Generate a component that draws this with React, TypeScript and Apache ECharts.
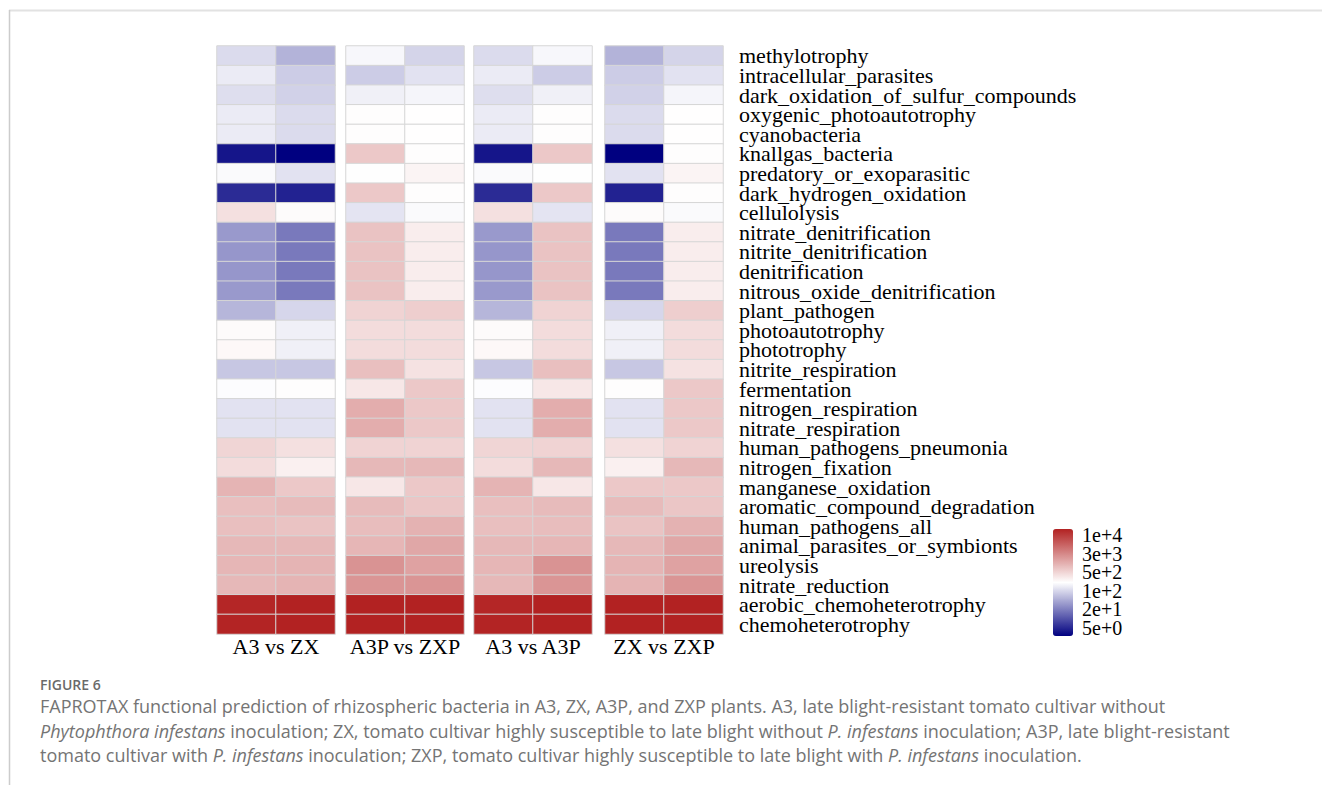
import React, { useEffect, useRef } from "react";
import * as echarts from "echarts";

const functions = [
  "methylotrophy",
  "intracellular_parasites",
  "dark_oxidation_of_sulfur_compounds",
  "oxygenic_photoautotrophy",
  "cyanobacteria",
  "knallgas_bacteria",
  "predatory_or_exoparasitic",
  "dark_hydrogen_oxidation",
  "cellulolysis",
  "nitrate_denitrification",
  "nitrite_denitrification",
  "denitrification",
  "nitrous_oxide_denitrification",
  "plant_pathogen",
  "photoautotrophy",
  "phototrophy",
  "nitrite_respiration",
  "fermentation",
  "nitrogen_respiration",
  "nitrate_respiration",
  "human_pathogens_pneumonia",
  "nitrogen_fixation",
  "manganese_oxidation",
  "aromatic_compound_degradation",
  "human_pathogens_all",
  "animal_parasites_or_symbionts",
  "ureolysis",
  "nitrate_reduction",
  "aerobic_chemoheterotrophy",
  "chemoheterotrophy",
];

// estimated abundances per sample (same order as functions)
const A3 = [127, 166, 133, 166, 166, 4.3, 215, 6.3, 431, 41, 39, 39, 41, 67, 256, 267, 90, 224, 143, 143, 536, 470, 1030, 828, 828, 944, 986, 944, 16672, 17400];
const ZX = [64, 98, 107, 127, 127, 3.0, 143, 5.4, 256, 24, 24, 24, 24, 117, 181, 181, 90, 245, 143, 143, 431, 318, 696, 903, 759, 944, 1030, 1030, 18197, 18197];
const A3P = [206, 98, 181, 245, 245, 696, 230, 696, 148, 759, 759, 759, 759, 560, 470, 470, 828, 378, 1173, 1173, 560, 944, 378, 903, 865, 986, 1977, 1893, 18197, 18197];
const ZXP = [112, 143, 197, 239, 239, 245, 292, 245, 215, 332, 332, 332, 332, 611, 470, 470, 413, 696, 696, 696, 560, 944, 696, 727, 1076, 1337, 1459, 1893, 18197, 18197];

const sampleValues: Record<string, number[]> = { A3, ZX, A3P, ZXP };
const comparisonLabels = ["A3 vs ZX", "A3P vs ZXP", "A3 vs A3P", "ZX vs ZXP"];
const comparisonPairs = [
  ["A3", "ZX"],
  ["A3P", "ZXP"],
  ["A3", "A3P"],
  ["ZX", "ZXP"],
];

// colour scale (log10) and legend ticks (log10 positions, bottom to top)
const colorLogMin = 0.48;
const colorLogMax = 4.26;
const legendTickLogs = [0.7, 1.38, 2.06, 2.74, 3.42, 4.1];

const captionTitle = "FIGURE 6";
const captionLines = [
  "FAPROTAX functional prediction of rhizospheric bacteria in A3, ZX, A3P, and ZXP plants. A3, late blight-resistant tomato cultivar without",
  "{i|Phytophthora infestans} inoculation; ZX, tomato cultivar highly susceptible to late blight without {i|P. infestans} inoculation; A3P, late blight-resistant",
  "tomato cultivar with {i|P. infestans} inoculation; ZXP, tomato cultivar highly susceptible to late blight with {i|P. infestans} inoculation.",
];

const SERIF = "'Liberation Serif', 'Times New Roman', serif";
const SANS = "'Open Sans', 'Noto Sans', sans-serif";

export default function App() {
  const ref = useRef<HTMLDivElement>(null);

  useEffect(() => {
    if (!ref.current) return;
    const chart = echarts.init(ref.current, undefined, { renderer: "svg" });

    const gridLefts = [217, 346, 474, 605];
    const gridWidth = 118;
    const gridTop = 46;
    const gridHeight = 588;

    const grids: any[] = gridLefts.map((l) => ({
      left: l,
      top: gridTop,
      width: gridWidth,
      height: gridHeight,
      containLabel: false,
      outerBoundsMode: "none",
    }));
    grids.push({ left: 1053, top: 535, width: 20, height: 93, outerBoundsMode: "none" });

    const xAxes: any[] = comparisonPairs.map((pair, i) => ({
      type: "category",
      gridIndex: i,
      data: pair,
      axisLabel: { show: false },
      axisTick: { show: false },
      axisLine: { show: false },
      splitLine: { show: false },
      name: comparisonLabels[i],
      nameLocation: "middle",
      nameGap: 0,
      nameTextStyle: { fontFamily: SERIF, fontSize: 22, color: "#000", lineHeight: 24 },
    }));
    xAxes.push({ type: "value", gridIndex: 4, show: false, min: 0, max: 1 });

    const yAxes: any[] = comparisonPairs.map((_, i) => ({
      type: "category",
      gridIndex: i,
      data: functions,
      inverse: true,
      position: i === 3 ? "right" : "left",
      axisLabel: {
        show: i === 3,
        interval: 0,
        fontFamily: SERIF,
        fontSize: 22,
        lineHeight: 19,
        color: "#000",
        margin: 16,
      },
      axisTick: { show: false },
      axisLine: { show: false },
      splitLine: { show: false },
    }));
    yAxes.push({
      type: "category",
      gridIndex: 4,
      data: legendTickLogs.map((t) => Math.pow(10, t).toExponential(0)),
      boundaryGap: false,
      position: "right",
      axisLine: { show: false },
      axisTick: { show: true, length: 3, interval: 0, lineStyle: { color: "#555" } },
      splitLine: { show: false },
      axisLabel: {
        interval: 0,
        margin: 9,
        fontFamily: SERIF,
        fontSize: 20,
        lineHeight: 18,
        color: "#000",
      },
    });

    const series = comparisonPairs.map((pair, i) => {
      const data: number[][] = [];
      pair.forEach((s, xi) => {
        sampleValues[s].forEach((v, yi) => {
          data.push([xi, yi, Math.log10(v)]);
        });
      });
      return {
        type: "heatmap",
        xAxisIndex: i,
        yAxisIndex: i,
        data,
        itemStyle: { borderColor: "#d6d6d6", borderWidth: 1 },
        emphasis: { disabled: true },
      };
    });

    const capColor = "#747474";
    const richItalic = { fontStyle: "italic", fontFamily: SANS, fontSize: 18, fill: capColor };

    const option: any = {
      animation: false,
      backgroundColor: "#ffffff",
      grid: grids,
      xAxis: xAxes,
      yAxis: yAxes,
      visualMap: {
        type: "continuous",
        min: colorLogMin,
        max: colorLogMax,
        seriesIndex: [0, 1, 2, 3],
        dimension: 2,
        calculable: false,
        hoverLink: false,
        orient: "vertical",
        left: 1048,
        top: 524,
        padding: 5,
        itemWidth: 20,
        itemHeight: 107,
        inRange: { color: ["#000080", "#ffffff", "#b22222"] },
      },
      series,
      graphic: [
        {
          type: "line",
          silent: true,
          shape: { x1: 9, y1: 10.5, x2: 1322, y2: 10.5 },
          style: { stroke: "#e2e2e2", lineWidth: 2 },
        },
        {
          type: "line",
          silent: true,
          shape: { x1: 9.5, y1: 10, x2: 9.5, y2: 785 },
          style: { stroke: "#cccccc", lineWidth: 1.5 },
        },
        {
          type: "text",
          silent: true,
          x: 40,
          y: 684,
          style: {
            text: captionTitle,
            fontFamily: SANS,
            fontSize: 14,
            fontWeight: 600,
            fill: "#6a6a6a",
            verticalAlign: "middle",
          },
        },
        ...captionLines.map((t, i) => ({
          type: "text",
          silent: true,
          x: 40,
          y: 706 + i * 24.5,
          style: {
            text: t,
            fontFamily: SANS,
            fontSize: 18,
            fill: capColor,
            verticalAlign: "middle",
            rich: { i: richItalic },
          },
        })),
      ],
    };

    chart.setOption(option);
    return () => chart.dispose();
  }, []);

  return (
    <div
      ref={ref}
      style={{ position: "absolute", left: 0, top: 0, width: 1322, height: 785, background: "#fff" }}
    />
  );
}
